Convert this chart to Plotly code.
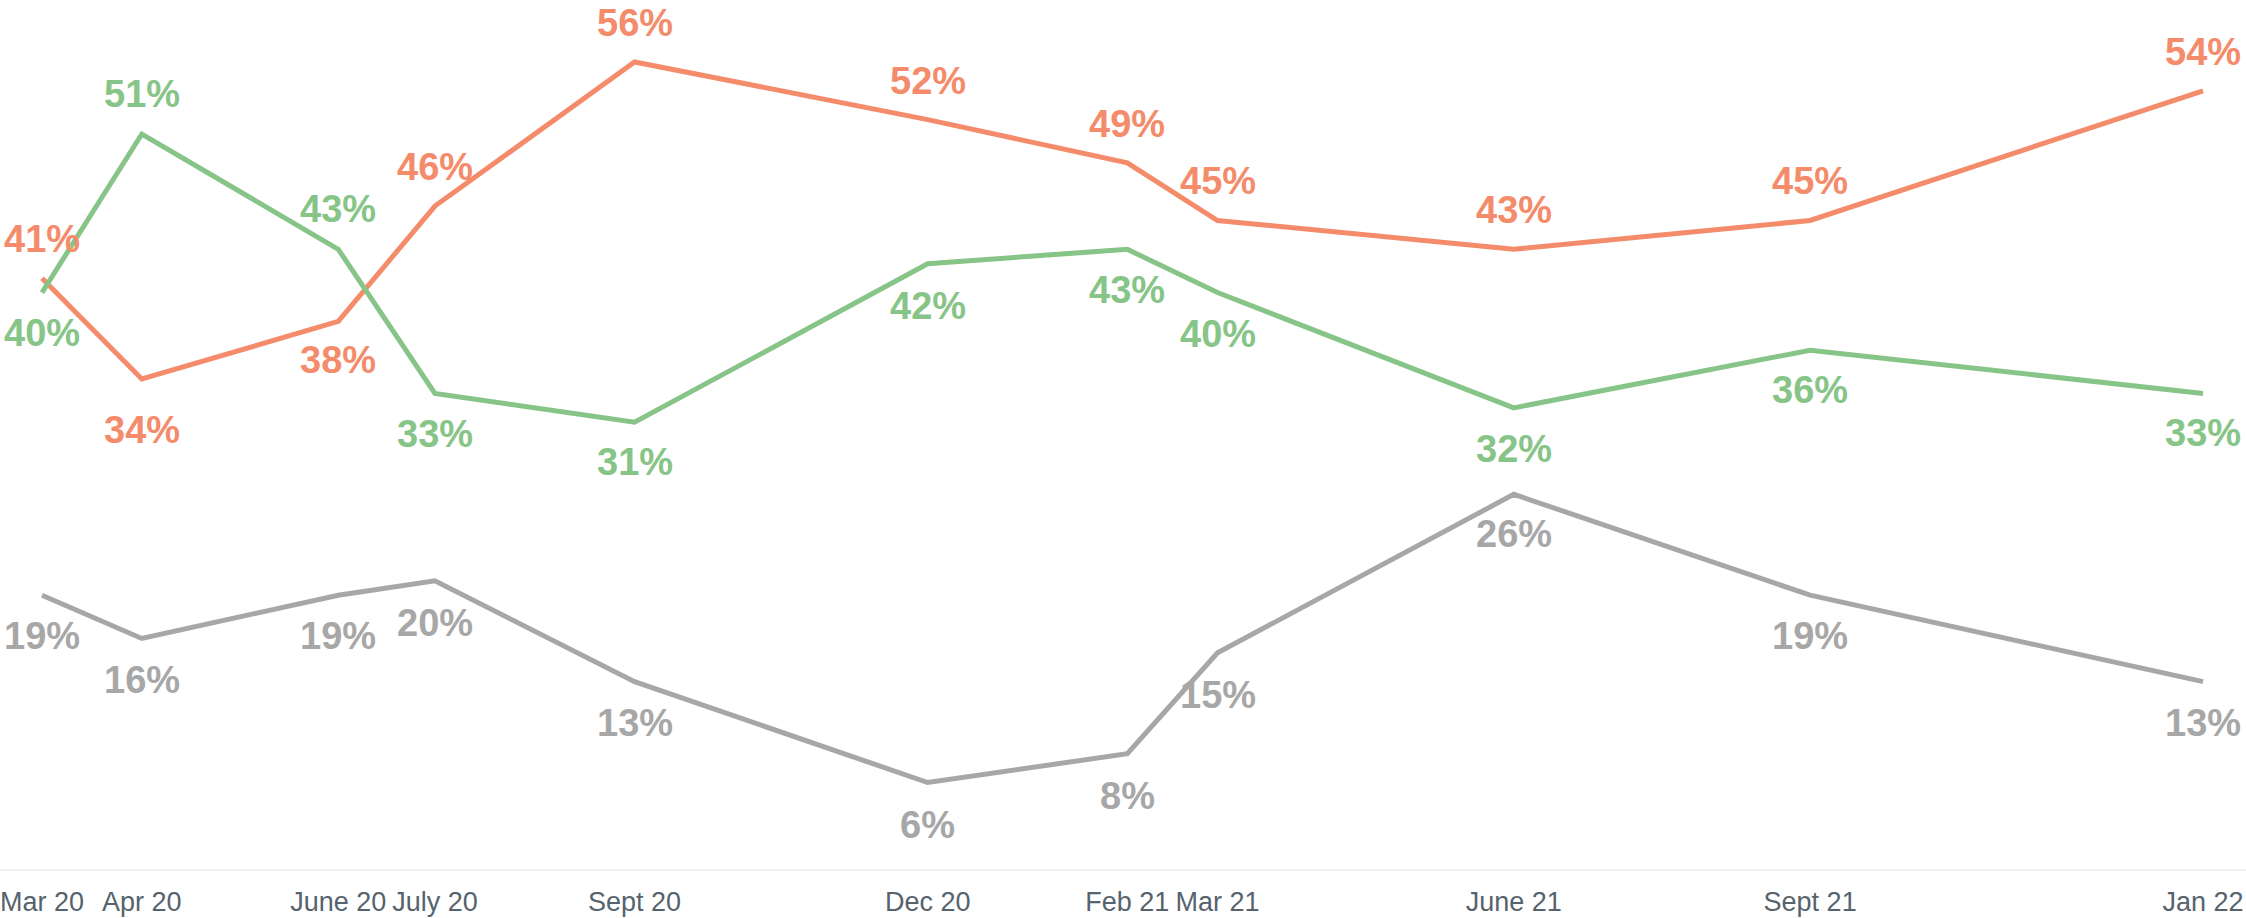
import plotly.graph_objects as go

# ---- data ----
dates = ["2020-03-01", "2020-04-01", "2020-06-01", "2020-07-01", "2020-09-01",
         "2020-12-01", "2021-02-01", "2021-03-01", "2021-06-01", "2021-09-01",
         "2022-01-01"]
tick_labels = ["Mar 20", "Apr 20", "June 20", "July 20", "Sept 20", "Dec 20",
               "Feb 21", "Mar 21", "June 21", "Sept 21", "Jan 22"]
orange_vals = [41, 34, 38, 46, 56, 52, 49, 45, 43, 45, 54]
green_vals = [40, 51, 43, 33, 31, 42, 43, 40, 32, 36, 33]
gray_vals = [19, 16, 19, 20, 13, 6, 8, 15, 26, 19, 13]

# label offsets in px: positive above the point, negative below
orange_shift = [39, -51, -39, 39, 39, 39, 39, 39, 39, 39, 39]
green_shift = [-40, 40, 40, -41, -40, -42, -41, -41, -41, -40, -40]
gray_shift = [-41, -42, -41, -42, -41, -42, -42, -42, -40, -41, -41]

ORANGE = "#F48B6B"
GREEN = "#87C487"
GRAY = "#A7A7A7"

series = [
    ("Series 1", orange_vals, orange_shift, ORANGE),
    ("Series 2", green_vals, green_shift, GREEN),
    ("Series 3", gray_vals, gray_shift, GRAY),
]

fig = go.Figure()
annotations = []
for name, vals, shifts, color in series:
    fig.add_trace(go.Scatter(
        x=dates, y=vals, mode="lines", name=name,
        line=dict(color=color, width=5),
        hoverinfo="skip",
    ))
    for d, v, s in zip(dates, vals, shifts):
        annotations.append(dict(
            x=d, y=v, xref="x", yref="y", text=f"{v}%", showarrow=False,
            xanchor="center", yanchor="middle", yshift=s,
            font=dict(family="Liberation Sans, Arial, sans-serif", size=38,
                      color=color, weight="bold"),
        ))

fig.update_layout(
    width=2246, height=918,
    margin=dict(l=0, r=0, t=0, b=49, autoexpand=False),
    paper_bgcolor="white", plot_bgcolor="white",
    showlegend=False,
    annotations=annotations,
    xaxis=dict(
        type="date",
        range=["2020-02-16 23:00", "2022-01-14 08:20"],
        tickmode="array", tickvals=dates, ticktext=tick_labels,
        tickangle=0, automargin=False, ticklabeloverflow="allow",
        ticklabelstandoff=8,
        showgrid=False, zeroline=False,
        showline=True, linecolor="#EEF1F3", linewidth=2,
        ticks="",
        tickfont=dict(family="Liberation Sans Narrow, Liberation Sans, Arial, sans-serif",
                      size=27, color="#56636D"),
    ),
    yaxis=dict(
        range=[0, 60.3], visible=False, showgrid=False, zeroline=False,
    ),
)

# remove the default page margin so the figure sits at the window's corner
fig.write_html("out.html", config={"displayModeBar": False},
               post_script="document.body.style.margin='0';")
